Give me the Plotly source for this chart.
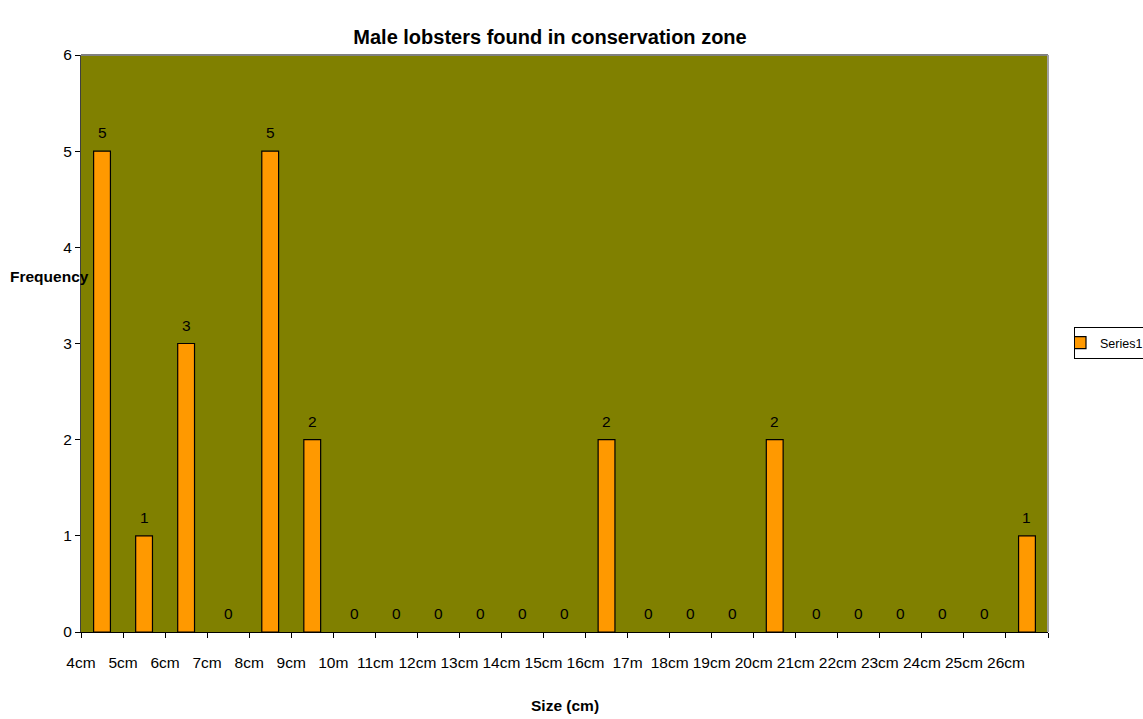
#############################################
########## Male lobsters bar chart
#############################################
import plotly.graph_objects as go

##### Data #####
size_labels = ['4cm', '5cm', '6cm', '7cm', '8cm', '9cm', '10m', '11cm', '12cm', '13cm', '14cm', '15cm',
			   '16cm', '17m', '18cm', '19cm', '20cm', '21cm', '22cm', '23cm', '24cm', '25cm', '26cm']
frequency = [5, 1, 3, 0, 5, 2, 0, 0, 0, 0, 0, 0, 2, 0, 0, 0, 2, 0, 0, 0, 0, 0, 1]

# bars sit in the middle of each category slot, labels sit on the slot edges
bar_x = [i + 0.5 for i in range(len(frequency))]
tick_x = list(range(len(frequency) + 1))
tick_text = size_labels + ['']

font_name = 'Liberation Sans, Arial, sans-serif'
font_size = 15.5

# no outline for empty bars (Excel draws nothing there)
outline_widths = [1.2 if v > 0 else 0 for v in frequency]

trace = go.Bar(x=bar_x, y=frequency, width=0.4, name='Series1',
			   marker=dict(color='#FF9900', line=dict(color='black', width=outline_widths)))

# value labels above each bar
value_labels = [dict(x=bx, y=v, text=str(v), xref='x', yref='y', yanchor='bottom', yshift=8,
					 showarrow=False, font=dict(size=font_size, color='black'))
				for bx, v in zip(bar_x, frequency)]

layout = go.Layout(
	width=1143, height=719,
	paper_bgcolor='white', plot_bgcolor='#808000',
	margin=dict(l=81, r=95, t=55, b=87),
	font=dict(family=font_name, size=font_size, color='black'),
	title=dict(text='<b>Male lobsters found in conservation zone</b>', x=550 / 1143, xanchor='center',
			   y=1 - 37 / 719, yanchor='middle', font=dict(size=20)),
	xaxis=dict(range=[0, len(frequency)], tickmode='array', tickvals=tick_x, ticktext=tick_text,
			   ticks='outside', ticklen=5, tickcolor='black', showline=True, linecolor='black',
			   showgrid=False, zeroline=False, ticklabelstandoff=11, tickangle=0,
			   tickfont=dict(size=font_size)),
	yaxis=dict(range=[0, 6], dtick=1, ticks='outside', ticklen=5, tickcolor='black',
			   showline=True, linecolor='#404040', showgrid=False, zeroline=False,
			   tickfont=dict(size=font_size)),
	showlegend=True,
	legend=dict(x=1074 / 1143, y=1 - 343 / 719, xanchor='left', yanchor='middle',
				xref='container', yref='container', indentation=-15,
				bordercolor='black', borderwidth=1, bgcolor='white',
				font=dict(size=12.5), itemwidth=30),
	shapes=[dict(type='line', xref='paper', yref='paper', x0=0, x1=1, y0=1, y1=1,
				 line=dict(color='#808080', width=2)),
			dict(type='line', xref='paper', yref='paper', x0=1, x1=1, y0=0, y1=1,
				 line=dict(color='#A0A0A0', width=2))],
	annotations=value_labels + [
		dict(text='<b>Frequency</b>', xref='paper', yref='paper', x=-73 / 967, y=(632 - 276) / 577,
			 xanchor='left', yanchor='middle', showarrow=False, font=dict(size=font_size)),
		dict(text='<b>Size (cm)</b>', xref='paper', yref='paper', x=0.5, y=-(705 - 632) / 577,
			 xanchor='center', yanchor='middle', showarrow=False, font=dict(size=font_size))]
)

fig = go.Figure(data=[trace], layout=layout)
fig.write_html('out.html', config={'displayModeBar': False},
			   post_script="document.body.style.margin='0';")
